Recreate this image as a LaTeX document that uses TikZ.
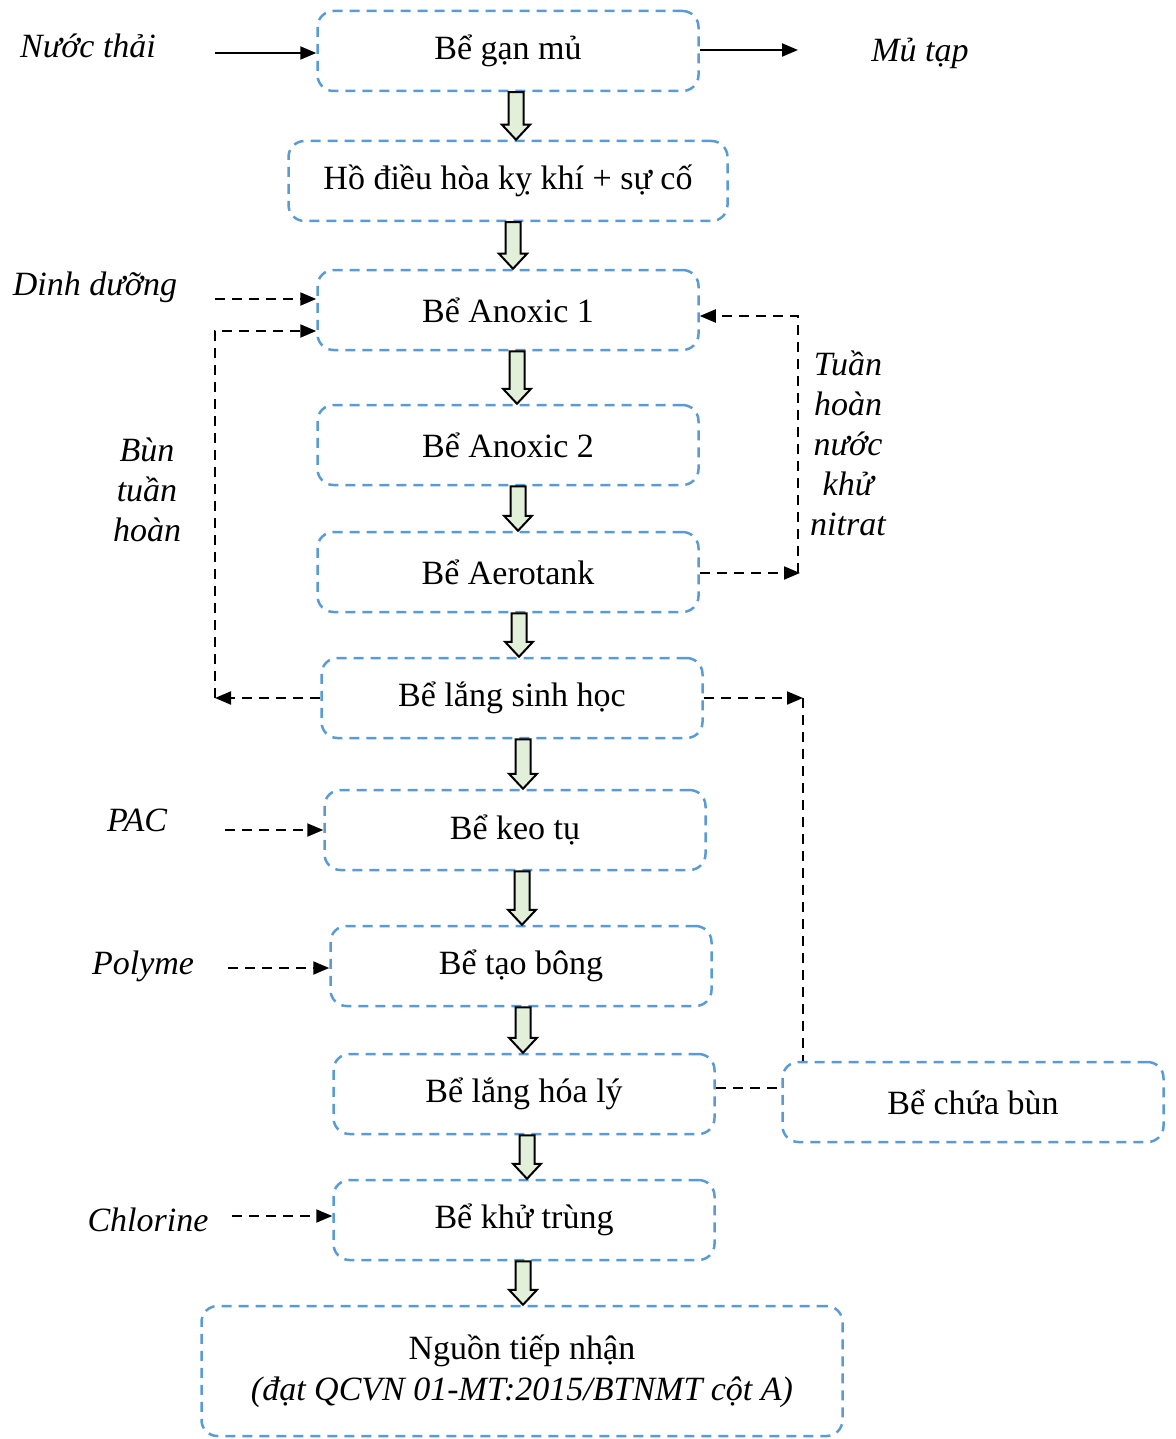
\documentclass[tikz,border=0pt]{standalone}
\usepackage{fontspec}
\setmainfont{Liberation Serif}
\usetikzlibrary{arrows.meta,calc}
\definecolor{boxblue}{HTML}{5B9BD5}
\definecolor{arrowgreen}{HTML}{E2F0D9}
\newcommand\blockarr[3]{%
  \draw[barr] let \p1=(#1.south), \p2=(#2.north) in
    ({#3pt-7.5pt},\y1) -- ({#3pt+7.5pt},\y1) -- ({#3pt+7.5pt},{\y2+15pt}) --
    ({#3pt+14pt},{\y2+15pt}) -- ({#3pt},\y2) -- ({#3pt-14pt},{\y2+15pt}) --
    ({#3pt-7.5pt},{\y2+15pt}) -- cycle;}
\begin{document}
\begin{tikzpicture}[x=1pt,y=-1pt,
  box/.style={draw=boxblue, line width=2.5pt, dash pattern=on 10pt off 7pt,
    rounded corners=16pt, minimum width=381pt, minimum height=80pt,
    inner sep=0pt, align=center, font=\fontsize{34}{41}\selectfont},
  lbl/.style={font=\fontsize{34}{40}\selectfont\itshape, align=center, inner sep=0pt},
  darr/.style={line width=2pt, dash pattern=on 10pt off 7pt,
    -{Triangle[length=16pt,width=13pt]}},
  dline/.style={line width=2pt, dash pattern=on 10pt off 7pt},
  sarr/.style={line width=2pt, -{Triangle[length=16pt,width=13pt]}},
  barr/.style={draw=black, line width=2pt, fill=arrowgreen, line join=miter}]
\useasboundingbox (0,0) rectangle (1175,1439);

% boxes
\node[box] (n1) at (508,51) {Bể gạn mủ};
\node[box, minimum width=439pt] (n2) at (508,181) {Hồ điều hòa kỵ khí + sự cố};
\node[box] (n3) at (508,310) {Bể Anoxic 1};
\node[box] (n4) at (508,445) {Bể Anoxic 2};
\node[box] (n5) at (508,572) {Bể Aerotank};
\node[box] (n6) at (512,698) {Bể lắng sinh học};
\node[box] (n7) at (515,830) {Bể keo tụ};
\node[box] (n8) at (521,966) {Bể tạo bông};
\node[box] (n9) at (524,1094) {Bể lắng hóa lý};
\node[box] (n10) at (524,1220) {Bể khử trùng};
\node[box, minimum width=641pt, minimum height=130pt] (n11) at (522,1371)
  {Nguồn tiếp nhận\\\itshape (đạt QCVN 01-MT:2015/BTNMT cột A)};
\node[box] (n12) at (973,1102) {Bể chứa bùn};

% labels
\node[lbl] (lnt) at (88,46) {Nước thải};
\node[lbl] (lmt) at (920,53) {Mủ tạp};
\node[lbl] (ldd) at (95,287) {Dinh dưỡng};
\node[lbl] (lbt) at (147,490) {Bùn\\tuần\\hoàn};
\node[lbl] (lth) at (848,443) {Tuần\\hoàn\\nước\\khử\\nitrat};
\node[lbl] (lpac) at (137,820) {PAC};
\node[lbl] (lpol) at (143,966) {Polyme};
\node[lbl] (lcl) at (148,1220) {Chlorine};

% block arrows
\blockarr{n1}{n2}{516}
\blockarr{n2}{n3}{513}
\blockarr{n3}{n4}{517}
\blockarr{n4}{n5}{518}
\blockarr{n5}{n6}{519}
\blockarr{n6}{n7}{523}
\blockarr{n7}{n8}{522}
\blockarr{n8}{n9}{523}
\blockarr{n9}{n10}{527}
\blockarr{n10}{n11}{523}

% connectors
\coordinate (c1) at (215,53);
\draw[sarr] (c1) -- (c1 -| n1.west);
\coordinate (c2) at (798,50);
\draw[sarr] (n1.east |- c2) -- (c2);
\coordinate (c3) at (215,299);
\draw[darr] (c3) -- (c3 -| n3.west);
\coordinate (c4) at (215,698);
\coordinate (c5) at (215,331);
\draw[darr] (n6.west) -- (c4);
\draw[darr] (c4) -- (c5) -- (c5 -| n3.west);
\coordinate (c6) at (798,573);
\coordinate (c7) at (798,316);
\draw[darr] (n5.east |- c6) -- ([xshift=2pt]c6);
\draw[darr] (c6) -- (c7) -- (c7 -| n3.east);
\coordinate (c8) at (803,698);
\draw[darr] (n6.east) -- (c8);
\draw[dline] (c8) -- (c8 |- n12.north);
\coordinate (c9) at (750,1088);
\draw[dline] (c9 -| n9.east) -- (c9 -| n12.west);
\coordinate (c10) at (225,830);
\draw[darr] (c10) -- (c10 -| n7.west);
\coordinate (c11) at (228,968);
\draw[darr] (c11) -- (c11 -| n8.west);
\coordinate (c12) at (232,1216);
\draw[darr] (c12) -- (c12 -| n10.west);
\end{tikzpicture}
\end{document}
